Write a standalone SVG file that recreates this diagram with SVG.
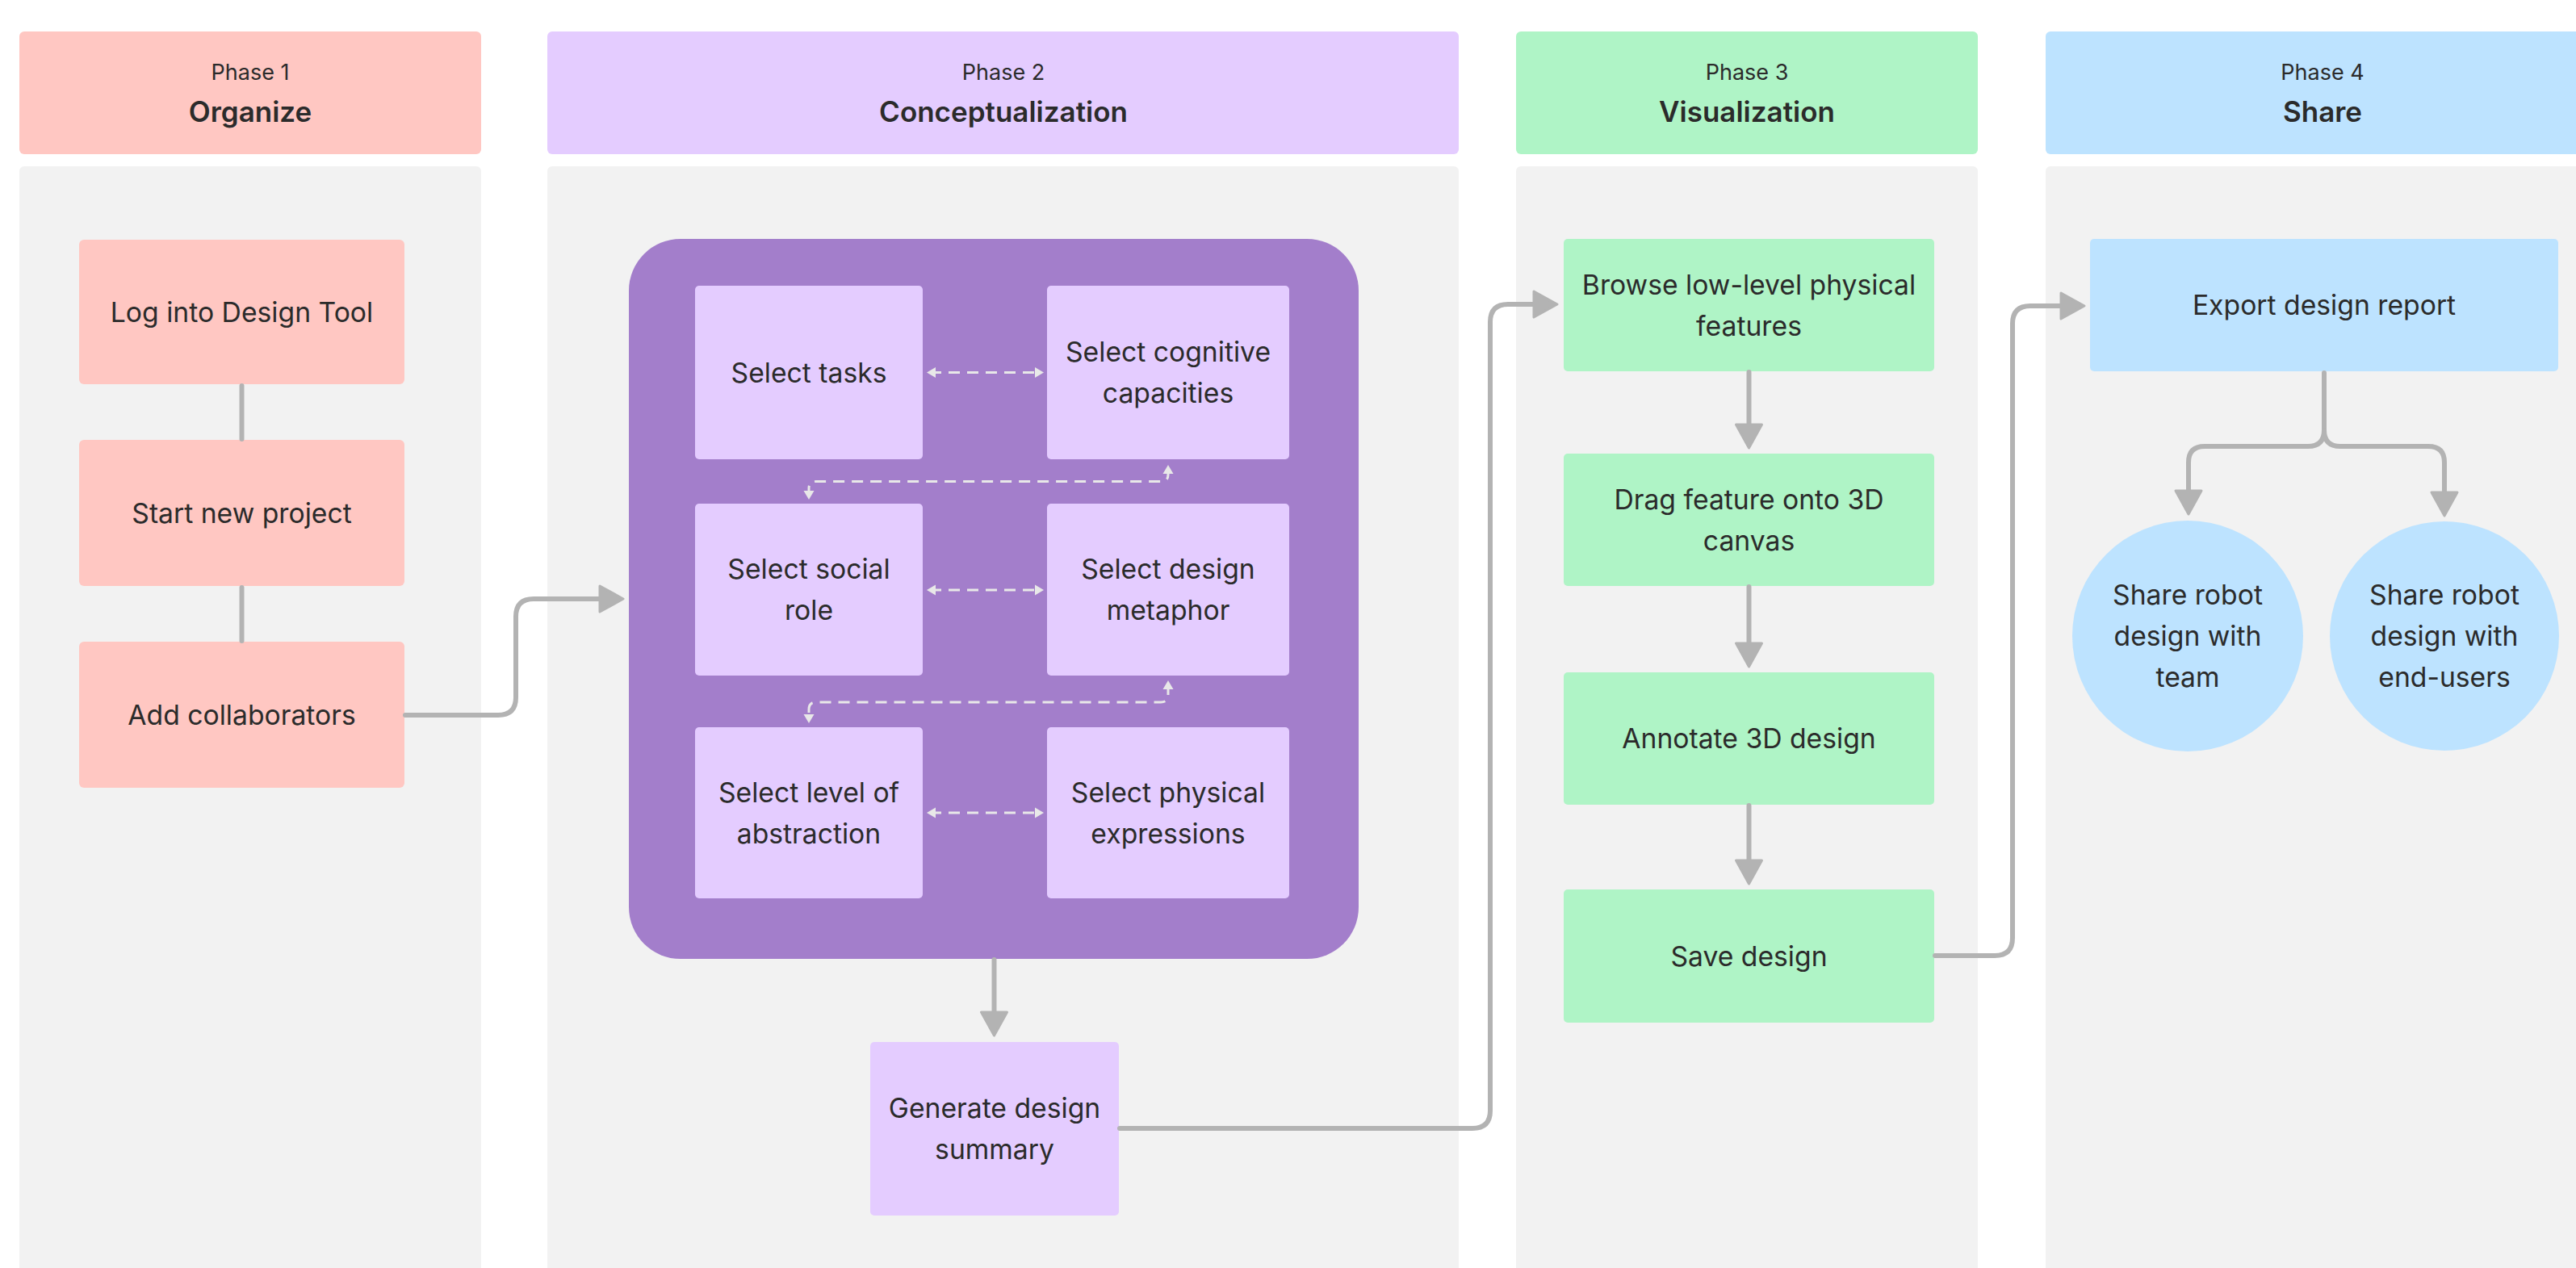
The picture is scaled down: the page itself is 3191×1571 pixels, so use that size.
<svg xmlns="http://www.w3.org/2000/svg" width="3191" height="1571" viewBox="0 0 3191 1571">
<style>
text{font-family:Inter,"Liberation Sans",sans-serif;fill:#2b2b2b;text-anchor:middle}
.ph{font-size:27px}
.pt{font-size:35px;font-weight:600}
.t{font-size:33.7px}
.panel{fill:#f2f2f2}
.p1{fill:#ffc7c2}
.p2{fill:#e4ccff}
.p3{fill:#aff4c6}
.p4{fill:#bde3ff}
.conn{fill:none;stroke:#b3b3b3;stroke-width:6;stroke-linecap:round;stroke-linejoin:round}
.dash{fill:none;stroke:#e8e8e8;stroke-width:3;stroke-dasharray:14 9}
</style>
<defs>
<marker id="ah" markerUnits="userSpaceOnUse" markerWidth="40" markerHeight="40" refX="22" refY="18" orient="auto" overflow="visible">
<path d="M2,2 L31,18 L2,34 Z" fill="#b3b3b3" stroke="#b3b3b3" stroke-width="3" stroke-linejoin="round"/>
</marker>
<marker id="sh" markerUnits="userSpaceOnUse" markerWidth="14" markerHeight="14" refX="7" refY="6.5" orient="auto-start-reverse" overflow="visible">
<path d="M0,0 L11,6.5 L0,13 Z" fill="#e8e8e8"/>
</marker>
</defs>
<rect width="3191" height="1571" fill="#ffffff"/>
<g id="lanes">
<rect class="panel" x="24" y="206" width="572" height="1400" rx="6"/>
<rect class="panel" x="678" y="206" width="1129" height="1400" rx="6"/>
<rect class="panel" x="1878" y="206" width="572" height="1400" rx="6"/>
<rect class="panel" x="2534" y="206" width="700" height="1400" rx="6"/>
</g>
<g id="phase1">
<rect class="p1" x="24" y="39" width="572" height="152" rx="6"/>
<text class="ph" x="310" y="99">Phase 1</text>
<text class="pt" x="310" y="151">Organize</text>
</g>
<g id="phase2">
<rect class="p2" x="678" y="39" width="1129" height="152" rx="6"/>
<text class="ph" x="1243" y="99">Phase 2</text>
<text class="pt" x="1243" y="151">Conceptualization</text>
</g>
<g id="phase3">
<rect class="p3" x="1878" y="39" width="572" height="152" rx="6"/>
<text class="ph" x="2164" y="99">Phase 3</text>
<text class="pt" x="2164" y="151">Visualization</text>
</g>
<g id="phase4">
<rect class="p4" x="2534" y="39" width="700" height="152" rx="6"/>
<text class="ph" x="2877" y="99">Phase 4</text>
<text class="pt" x="2877" y="151">Share</text>
</g>
<g id="log-in">
<rect class="p1" x="98" y="297" width="403" height="179" rx="6"/>
<text class="t" x="299.5" y="398.5">Log into Design Tool</text>
</g>
<g id="start-project">
<rect class="p1" x="98" y="545" width="403" height="181" rx="6"/>
<text class="t" x="299.5" y="647.5">Start new project</text>
</g>
<g id="add-collaborators">
<rect class="p1" x="98" y="795" width="403" height="181" rx="6"/>
<text class="t" x="299.5" y="897.5">Add collaborators</text>
</g>
<g id="concept-group">
<rect x="779" y="296" width="904" height="892" rx="64" fill="#a37ecb"/>
</g>
<g id="select-tasks">
<rect class="p2" x="861" y="354" width="282" height="215" rx="5"/>
<text class="t" x="1002" y="473.5">Select tasks</text>
</g>
<g id="select-cognitive">
<rect class="p2" x="1297" y="354" width="300" height="215" rx="5"/>
<text class="t" x="1447" y="448">Select cognitive</text>
<text class="t" x="1447" y="499">capacities</text>
</g>
<g id="select-social">
<rect class="p2" x="861" y="624" width="282" height="213" rx="5"/>
<text class="t" x="1002" y="717">Select social</text>
<text class="t" x="1002" y="768">role</text>
</g>
<g id="select-metaphor">
<rect class="p2" x="1297" y="624" width="300" height="213" rx="5"/>
<text class="t" x="1447" y="717">Select design</text>
<text class="t" x="1447" y="768">metaphor</text>
</g>
<g id="select-abstraction">
<rect class="p2" x="861" y="901" width="282" height="212" rx="5"/>
<text class="t" x="1002" y="993.5">Select level of</text>
<text class="t" x="1002" y="1044.5">abstraction</text>
</g>
<g id="select-physical">
<rect class="p2" x="1297" y="901" width="300" height="212" rx="5"/>
<text class="t" x="1447" y="993.5">Select physical</text>
<text class="t" x="1447" y="1044.5">expressions</text>
</g>
<g id="generate-summary">
<rect class="p2" x="1078" y="1291" width="308" height="215" rx="5"/>
<text class="t" x="1232" y="1384.5">Generate design</text>
<text class="t" x="1232" y="1435.5">summary</text>
</g>
<g id="browse-features">
<rect class="p3" x="1937" y="296" width="459" height="164" rx="5"/>
<text class="t" x="2166.5" y="364.5">Browse low-level physical</text>
<text class="t" x="2166.5" y="415.5">features</text>
</g>
<g id="drag-feature">
<rect class="p3" x="1937" y="562" width="459" height="164" rx="5"/>
<text class="t" x="2166.5" y="631">Drag feature onto 3D</text>
<text class="t" x="2166.5" y="682">canvas</text>
</g>
<g id="annotate">
<rect class="p3" x="1937" y="833" width="459" height="164" rx="5"/>
<text class="t" x="2166.5" y="927">Annotate 3D design</text>
</g>
<g id="save-design">
<rect class="p3" x="1937" y="1102" width="459" height="165" rx="5"/>
<text class="t" x="2166.5" y="1196.5">Save design</text>
</g>
<g id="export-report">
<rect class="p4" x="2589" y="296" width="580" height="164" rx="5"/>
<text class="t" x="2879" y="390">Export design report</text>
</g>
<g id="share-team">
<circle class="p4" cx="2710" cy="788" r="143"/>
<text class="t" x="2710" y="749">Share robot</text>
<text class="t" x="2710" y="800">design with</text>
<text class="t" x="2710" y="851">team</text>
</g>
<g id="share-endusers">
<circle class="p4" cx="3028" cy="788" r="142"/>
<text class="t" x="3028" y="749">Share robot</text>
<text class="t" x="3028" y="800">design with</text>
<text class="t" x="3028" y="851">end-users</text>
</g>
<g id="connectors">
<path class="conn" d="M299.5,478 L299.5,544"/>
<path class="conn" d="M299.5,728 L299.5,794"/>
<path class="conn" d="M502,886 L617,886 Q639,886 639,864 L639,764 Q639,742 661,742 L763,742" marker-end="url(#ah)"/>
<path class="conn" d="M1231.5,1189 L1231.5,1274" marker-end="url(#ah)"/>
<path class="conn" d="M1387,1398 L1824,1398 Q1846,1398 1846,1376 L1846,399 Q1846,377 1868,377 L1920,377" marker-end="url(#ah)"/>
<path class="conn" d="M2166.5,461 L2166.5,546" marker-end="url(#ah)"/>
<path class="conn" d="M2166.5,727 L2166.5,817" marker-end="url(#ah)"/>
<path class="conn" d="M2166.5,998 L2166.5,1086" marker-end="url(#ah)"/>
<path class="conn" d="M2397,1184 L2471,1184 Q2493,1184 2493,1162 L2493,401 Q2493,379 2515,379 L2573,379" marker-end="url(#ah)"/>
<path class="conn" d="M2879,462 L2879,533 Q2879,553 2859,553 L2731,553 Q2711,553 2711,573 L2711,628" marker-end="url(#ah)"/>
<path class="conn" d="M2879,533 Q2879,553 2899,553 L3008,553 Q3028,553 3028,573 L3028,630" marker-end="url(#ah)"/>
<path class="dash" d="M1152,461.5 L1289,461.5" marker-start="url(#sh)" marker-end="url(#sh)"/>
<path class="dash" d="M1152,731 L1289,731" marker-start="url(#sh)" marker-end="url(#sh)"/>
<path class="dash" d="M1152,1007 L1289,1007" marker-start="url(#sh)" marker-end="url(#sh)"/>
<path class="dash" d="M1447,580 L1447,588 Q1447,596.5 1438,596.5 L1011,596.5 Q1002,596.5 1002,605 L1002,615" marker-start="url(#sh)" marker-end="url(#sh)"/>
<path class="dash" d="M1447,847 L1447,861 Q1447,870 1438,870 L1011,870 Q1002,870 1002,879 L1002,892" marker-start="url(#sh)" marker-end="url(#sh)"/>
</g>
</svg>
